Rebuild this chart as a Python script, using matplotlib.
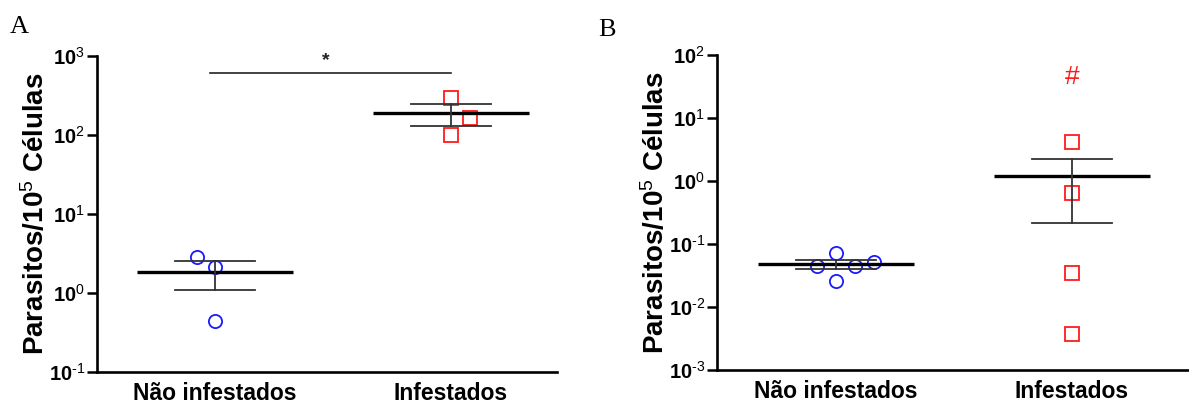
import numpy as np
import matplotlib
matplotlib.use("Agg")
import matplotlib.pyplot as plt

# ---------------- data ----------------
categories = ["Não infestados", "Infestados"]
y_label = "Parasitos/10$^{5}$ Células"

# Panel A
a_nao = [2.88, 2.14, 0.44]
a_inf = [297.0, 165.0, 100.0]
a_nao_dx = [-0.076, 0.0, 0.0]
a_inf_dx = [0.0, 0.08, 0.0]
a_ticks = [1e-1, 1e0, 1e1, 1e2, 1e3]
a_tick_labels = ["10$^{\u20101}$", "10$^{0}$", "10$^{1}$", "10$^{2}$", "10$^{3}$"]
a_sig_level = 617.0
a_sig_text = "*"

# Panel B
b_nao = [0.072, 0.0448, 0.0448, 0.0518, 0.0259]
b_inf = [4.16, 0.645, 0.0346, 0.0037]
b_nao_dx = [0.0, -0.08, 0.08, 0.16, 0.0]
b_inf_dx = [0.0, 0.0, 0.0, 0.0]
b_ticks = [1e-3, 1e-2, 1e-1, 1e0, 1e1, 1e2]
b_tick_labels = ["10$^{\u20103}$", "10$^{\u20102}$", "10$^{\u20101}$", "10$^{0}$", "10$^{1}$", "10$^{2}$"]
b_hash_level = 45.0
b_hash_text = "#"

# ---------------- style ----------------
plt.rcParams["font.family"] = ["Liberation Sans", "DejaVu Sans"]
plt.rcParams["mathtext.fontset"] = "custom"
plt.rcParams["mathtext.rm"] = "Liberation Sans"
plt.rcParams["mathtext.bf"] = "Liberation Sans:bold"
plt.rcParams["mathtext.it"] = "Liberation Sans:italic"

BLUE = "#1a1aff"
RED = "#ff1a1a"
ERR = "#333333"

fig = plt.figure(figsize=(11.89, 4.05), dpi=100)
axA = fig.add_axes([97 / 1189, 1 - 372 / 405, (557 - 97) / 1189, (372 - 56) / 405])
axB = fig.add_axes([717 / 1189, 1 - 370 / 405, (1189 - 717) / 1189, (370 - 55) / 405])


def draw_group(ax, x0, vals, dx, marker, color):
    vals = np.asarray(vals, dtype=float)
    xs = x0 + np.asarray(dx)
    ax.plot(xs, vals, linestyle="none", marker=marker, markersize=9.5,
            markerfacecolor="none", markeredgecolor=color, markeredgewidth=1.3,
            zorder=3)
    m = vals.mean()
    sem = vals.std(ddof=1) / np.sqrt(len(vals))
    ax.plot([x0 - 0.33, x0 + 0.33], [m, m], color="black", lw=2.4, zorder=4,
            solid_capstyle="butt")
    ax.plot([x0 - 0.17, x0 + 0.17], [m + sem, m + sem], color=ERR, lw=1.3, zorder=4)
    ax.plot([x0 - 0.17, x0 + 0.17], [m - sem, m - sem], color=ERR, lw=1.3, zorder=4)
    ax.plot([x0, x0], [m - sem, m + sem], color=ERR, lw=1.3, zorder=4)


def style_axis(ax, ticks, labels, ylim, xlim):
    ax.set_yscale("log")
    ax.set_ylim(*ylim)
    ax.set_xlim(*xlim)
    ax.set_yticks(ticks)
    ax.set_yticklabels(labels, fontsize=14.5, fontweight="bold")
    ax.yaxis.set_minor_locator(matplotlib.ticker.NullLocator())
    ax.set_xticks([0, 1])
    ax.set_xticklabels(categories, fontsize=16.5, fontweight="bold")
    ax.tick_params(axis="x", length=0, pad=7)
    ax.tick_params(axis="y", length=7, width=1.8, pad=1.5)
    for s in ["top", "right"]:
        ax.spines[s].set_visible(False)
    for s in ["left", "bottom"]:
        ax.spines[s].set_linewidth(1.9)
    ax.set_ylabel(y_label, fontsize=20, fontweight="bold", labelpad=-1)


# Panel A
draw_group(axA, 0, a_nao, a_nao_dx, "o", BLUE)
draw_group(axA, 1, a_inf, a_inf_dx, "s", RED)
style_axis(axA, a_ticks, a_tick_labels, (1e-1, 1e3), (-0.5, 1.449))
axA.plot([-0.02, 1.0], [a_sig_level, a_sig_level], color="#222222", lw=1.2)
axA.text(0.47, a_sig_level * 1.12, a_sig_text, ha="center", va="bottom",
         fontsize=14, fontweight="bold", color="#222222")

# Panel B
draw_group(axB, 0, b_nao, b_nao_dx, "o", BLUE)
draw_group(axB, 1, b_inf, b_inf_dx, "s", RED)
style_axis(axB, b_ticks, b_tick_labels, (1e-3, 1e2), (-0.504, 1.496))
axB.text(1.0, b_hash_level, b_hash_text, ha="center", va="center",
         fontsize=19, color=RED)

# Panel letters
fig.text(10 / 1189, 1 - 33 / 405, "A", fontsize=19, family="Liberation Serif")
fig.text(598 / 1189, 1 - 36 / 405, "B", fontsize=19, family="Liberation Serif")

fig.savefig("out.png", dpi=100)
